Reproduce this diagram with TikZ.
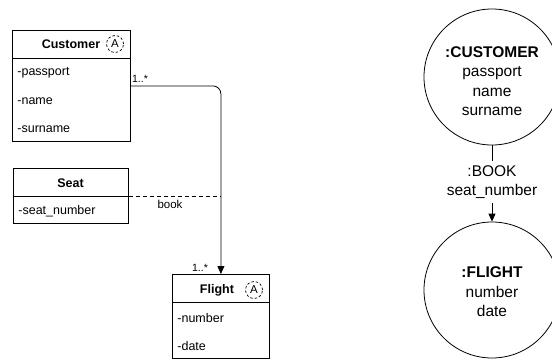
\documentclass[tikz,border=0pt]{standalone}
\usepackage{fontspec}
\setmainfont{Liberation Sans}
\usetikzlibrary{arrows.meta}

\begin{document}
\begin{tikzpicture}[x=1pt,y=-1pt,
  line width=0.8pt,
  classbox/.style={draw, rectangle, inner sep=0pt, anchor=north west},
  classtitle/.style={font=\fontsize{12.5}{15}\selectfont\bfseries, inner sep=0pt},
  abstracticon/.style={draw, circle, dashed, dash pattern=on 2.5pt off 2pt, line width=0.7pt,
    minimum size=17pt, inner sep=0pt, font=\fontsize{11.5}{13}\selectfont},
  attr/.style={font=\fontsize{12.5}{15}\selectfont, anchor=west, inner sep=0pt},
  mult/.style={font=\fontsize{10.5}{12}\selectfont, inner sep=0pt},
  rolelabel/.style={font=\fontsize{11.5}{13}\selectfont, inner sep=0pt},
  objcircle/.style={draw, circle, minimum size=136pt, inner sep=0pt},
  objtext/.style={font=\fontsize{15.5}{19.5}\selectfont, align=center, inner sep=0pt},
  arrowtip/.style={-{Triangle[length=8pt,width=7pt]}}
]
\useasboundingbox (0,0) rectangle (552,359);

% ---- class Customer ----
\node[classbox, minimum width=118pt, minimum height=111pt] (cust) at (12,30) {};
\draw (cust.west |- 0,58) -- (cust.east |- 0,58);
\node[classtitle] (custtitle) at (71,44) {Customer};
\node[abstracticon] (custicon) at (115,44) {A};
\node[attr] (custa1) at (17,73) {-passport};
\node[attr] (custa2) at (17,101) {-name};
\node[attr] (custa3) at (17,129) {-surname};

% ---- class Seat ----
\node[classbox, minimum width=115pt, minimum height=55pt] (seat) at (13,168) {};
\draw (seat.west |- 0,196) -- (seat.east |- 0,196);
\node[classtitle] (seattitle) at (70.5,183) {Seat};
\node[attr] (seata1) at (18,211) {-seat\_number};

% ---- class Flight ----
\node[classbox, minimum width=97pt, minimum height=84pt] (flight) at (172,274) {};
\draw (flight.west |- 0,302) -- (flight.east |- 0,302);
\node[classtitle] (flighttitle) at (217,290) {Flight};
\node[abstracticon] (flighticon) at (254,290) {A};
\node[attr] (flighta1) at (177,318) {-number};
\node[attr] (flighta2) at (177,346) {-date};

% ---- association Customer -> Flight with association class Seat ----
\draw[arrowtip, rounded corners=8pt] (cust.east) -| (flight.north);
\coordinate (bookpt) at (flight.north |- seat.east);
\draw[dashed, dash pattern=on 4pt off 3pt] (seat.east) -- (bookpt);
\node[rolelabel] (booklbl) at (170,204.5) {book};
\node[mult] (multc) at (140,79) {1..*};
\node[mult] (multf) at (200,267.5) {1..*};

% ---- object view ----
\node[objcircle] (ocust) at (492,77) {};
\node[objtext] (ocusttext) at (492,81) {\textbf{:CUSTOMER}\\passport\\name\\surname};
\node[objcircle] (oflight) at (492,290) {};
\node[objtext] (oflighttext) at (492,292) {\textbf{:FLIGHT}\\number\\date};
\node[objtext, inner ysep=4pt] (obook) at (492,182) {:BOOK\\seat\_number};
\draw (ocust.south) -- (obook.north);
\draw[arrowtip] (obook.south) -- (oflight.north);
\end{tikzpicture}
\end{document}
